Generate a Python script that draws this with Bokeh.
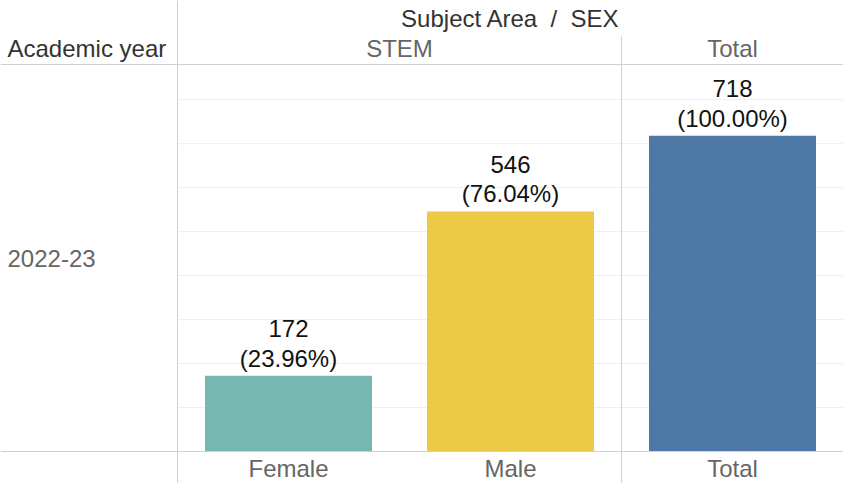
from bokeh.plotting import figure
from bokeh.models import Range1d, Span
from bokeh.core.properties import value
from bokeh.embed import file_html
from bokeh.resources import INLINE

# ---- data ----
categories = ["Female", "Male", "Total"]
counts = [172, 546, 718]
percents = ["(23.96%)", "(76.04%)", "(100.00%)"]
colors = ["#76B7B2", "#EDC948", "#4E79A7"]
y_ticks = [100, 200, 300, 400, 500, 600, 700, 800]
row_label = "2022-23"
row_header = "Academic year"
col_title = "Subject Area \u00a0/\u00a0 SEX"
panel_headers = ["STEM", "Total"]
panel_centers = [1.0, 2.5]   # category-unit centres of the two panels

# ---- layout (pixels) ----
W, H = 843, 483
LEFT, TOP, BOTTOM = 177, 64, 451
YMAX = 880
col_px = (W - LEFT) / len(categories)
ppu = (BOTTOM - TOP) / YMAX


def X(px):
    return (px - LEFT) / col_px


def Y(py):
    return (BOTTOM - py) / ppu


FONT = value("Liberation Sans")
FS = "24px"
DARK = "#333333"
GREY = "#666666"
LINE = "#D0D0D0"

p = figure(width=W, height=H,
           x_range=Range1d(X(0), X(W)), y_range=Range1d(Y(H), Y(0)),
           x_axis_type=None, y_axis_type=None,
           toolbar_location=None, output_backend="svg",
           min_border=0, outline_line_color=None,
           background_fill_color="white", border_fill_color="white")

centers = [i + 0.5 for i in range(len(categories))]

# gridlines
p.segment(x0=[0] * len(y_ticks), x1=[len(categories)] * len(y_ticks),
          y0=y_ticks, y1=y_ticks, line_color="#EFEFEF", line_width=1)

# bars
p.vbar(x=centers, top=counts, bottom=0, width=167 / col_px,
       fill_color=colors, line_color=None)

# value labels
p.text(x=centers, y=counts, text=[str(c) for c in counts],
       text_align="center", text_baseline="alphabetic", y_offset=-47,
       text_font=FONT, text_font_size=FS, text_color="#111111")
p.text(x=centers, y=counts, text=percents,
       text_align="center", text_baseline="alphabetic", y_offset=-17.5,
       text_font=FONT, text_font_size=FS, text_color="#111111")

# structure lines
for loc in (Y(TOP), Y(BOTTOM)):
    p.add_layout(Span(location=loc, dimension="width", line_color=LINE, line_width=1))
p.add_layout(Span(location=0, dimension="height", line_color=LINE, line_width=1))
p.segment(x0=[2], x1=[2], y0=[Y(36)], y1=[Y(H)], line_color=LINE, line_width=1)

# headers
p.text(x=[len(categories) / 2], y=[Y(17.5)], text=[col_title],
       text_align="center", text_baseline="middle",
       text_font=FONT, text_font_size=FS, text_color=DARK)
p.text(x=panel_centers, y=[Y(48)] * 2, text=panel_headers,
       text_align="center", text_baseline="middle",
       text_font=FONT, text_font_size=FS, text_color=GREY)
p.text(x=[X(7)], y=[Y(48)], text=[row_header],
       text_align="left", text_baseline="middle",
       text_font=FONT, text_font_size=FS, text_color=DARK)
p.text(x=[X(7)], y=[YMAX / 2], text=[row_label],
       text_align="left", text_baseline="middle",
       text_font=FONT, text_font_size=FS, text_color=GREY)

# x category labels
p.text(x=centers, y=[Y(468)] * len(categories), text=categories,
       text_align="center", text_baseline="middle",
       text_font=FONT, text_font_size=FS, text_color=GREY)

open("out.html", "w").write(file_html(p, INLINE))
